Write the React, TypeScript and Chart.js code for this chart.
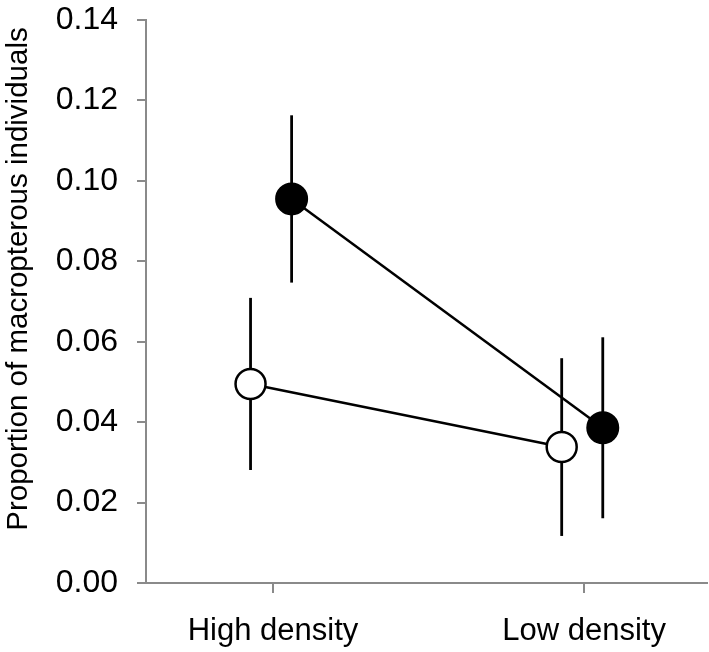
import React, { useEffect, useRef } from "react";
import { Chart, registerables, LineController } from "chart.js";

Chart.register(...registerables);

class FlushLineController extends LineController {
  static id = "flushLine";
  static defaults = LineController.defaults;
  static overrides = LineController.overrides;
  getMaxOverflow() {
    return 0;
  }
}
Chart.register(FlushLineController);

// ---- data ----
const categories = ["High density", "Low density"];
const categoryPositions = [1, 2];
const filledMeans = [0.0955, 0.0386];
const filledErrors = [0.0208, 0.0225];
const openMeans = [0.0495, 0.0338];
const openErrors = [0.0214, 0.0221];
const yTickValues = [0, 0.02, 0.04, 0.06, 0.08, 0.1, 0.12, 0.14];
const yTitle = "Proportion of macropterous individuals";

// ---- layout / style constants ----
const FILLED_DODGE = 0.06;
const OPEN_DODGE = -0.072;
const FONT = "'Liberation Sans', Arial, Helvetica, sans-serif";
const AXIS_GRAY = "#8a8a8a";

const errorBarPlugin = {
  id: "errorBars",
  beforeDatasetsDraw(chart: any) {
    const { ctx } = chart;
    const ys = chart.scales.y;
    ctx.save();
    ctx.strokeStyle = "#000";
    ctx.lineWidth = 2.8;
    ctx.lineCap = "butt";
    chart.data.datasets.forEach((ds: any, di: number) => {
      const meta = chart.getDatasetMeta(di);
      ds.errors.forEach((err: number, i: number) => {
        const pt = meta.data[i];
        const mean = ds.data[i].y;
        ctx.beginPath();
        ctx.moveTo(pt.x, ys.getPixelForValue(mean + err));
        ctx.lineTo(pt.x, ys.getPixelForValue(mean - err));
        ctx.stroke();
      });
    });
    ctx.restore();
  },
};

const yTitlePlugin = {
  id: "yTitleCustom",
  afterDraw(chart: any) {
    const { ctx } = chart;
    ctx.save();
    ctx.font = `29.5px ${FONT}`;
    ctx.fillStyle = "#000";
    ctx.textAlign = "center";
    ctx.textBaseline = "alphabetic";
    ctx.translate(27, 279);
    ctx.rotate(-Math.PI / 2);
    ctx.fillText(yTitle, 0, 0);
    ctx.restore();
  },
};

export default function App() {
  const ref = useRef<HTMLCanvasElement | null>(null);

  useEffect(() => {
    if (!ref.current) return;
    const chart = new Chart(ref.current, {
      type: "flushLine",
      data: {
        datasets: [
          {
            label: "open",
            data: categoryPositions.map((p, i) => ({ x: p + OPEN_DODGE, y: openMeans[i] })),
            errors: openErrors,
            borderColor: "#000",
            borderWidth: 2.5,
            backgroundColor: "#fff",
            pointBackgroundColor: "#fff",
            pointBorderColor: "#000",
            pointBorderWidth: 2.5,
            pointRadius: 15,
            pointHoverRadius: 15,
            fill: false,
            tension: 0,
            clip: false,
          } as any,
          {
            label: "filled",
            data: categoryPositions.map((p, i) => ({ x: p + FILLED_DODGE, y: filledMeans[i] })),
            errors: filledErrors,
            borderColor: "#000",
            borderWidth: 2.5,
            backgroundColor: "#000",
            pointBackgroundColor: "#000",
            pointBorderColor: "#000",
            pointBorderWidth: 2,
            pointRadius: 15.5,
            pointHoverRadius: 15.5,
            fill: false,
            tension: 0,
            clip: false,
          } as any,
        ],
      },
      options: {
        animation: false,
        responsive: false,
        devicePixelRatio: 1,
        events: [],
        layout: { padding: { left: 0, right: 2, top: 20, bottom: 0 } },
        plugins: {
          legend: { display: false },
          tooltip: { enabled: false },
          title: { display: false },
        },
        scales: {
          x: {
            type: "linear",
            min: 0.592,
            max: 2.395,
            afterBuildTicks: (scale: any) => {
              scale.ticks = categoryPositions.map((v) => ({ value: v }));
            },
            afterFit: (scale: any) => {
              scale.height = 69;
              scale.paddingLeft = 0;
              scale.paddingRight = 0;
              scale.paddingTop = 0;
              scale.paddingBottom = 0;
            },
            border: { display: true, color: AXIS_GRAY, width: 2 },
            grid: {
              drawOnChartArea: false,
              drawTicks: true,
              tickLength: 10,
              color: AXIS_GRAY,
              lineWidth: 2,
            },
            ticks: {
              autoSkip: false,
              maxRotation: 0,
              padding: 20,
              color: "#000",
              font: { family: FONT, size: 31 },
              callback: (v: any) => {
                const idx = categoryPositions.indexOf(Number(v));
                return idx >= 0 ? categories[idx] : "";
              },
            },
          },
          y: {
            type: "linear",
            min: 0,
            max: 0.14,
            afterBuildTicks: (scale: any) => {
              scale.ticks = yTickValues.map((v) => ({ value: v }));
            },
            afterFit: (scale: any) => {
              scale.width = 146;
              scale.paddingLeft = 0;
              scale.paddingRight = 0;
              scale.paddingTop = 0;
              scale.paddingBottom = 0;
            },
            border: { display: true, color: AXIS_GRAY, width: 2 },
            grid: {
              drawOnChartArea: false,
              drawTicks: true,
              tickLength: 9,
              color: AXIS_GRAY,
              lineWidth: 2,
            },
            ticks: {
              padding: 19,
              color: "#000",
              font: { family: FONT, size: 32 },
              callback: (v: any) => Number(v).toFixed(2),
            },
            title: { display: false },
          },
        },
      },
      plugins: [errorBarPlugin, yTitlePlugin],
    } as any);
    return () => chart.destroy();
  }, []);

  return (
    <div style={{ position: "absolute", left: 0, top: 0, width: 709, height: 652, background: "#fff" }}>
      <canvas ref={ref} width={709} height={652} style={{ display: "block", width: 709, height: 652 }} />
    </div>
  );
}
